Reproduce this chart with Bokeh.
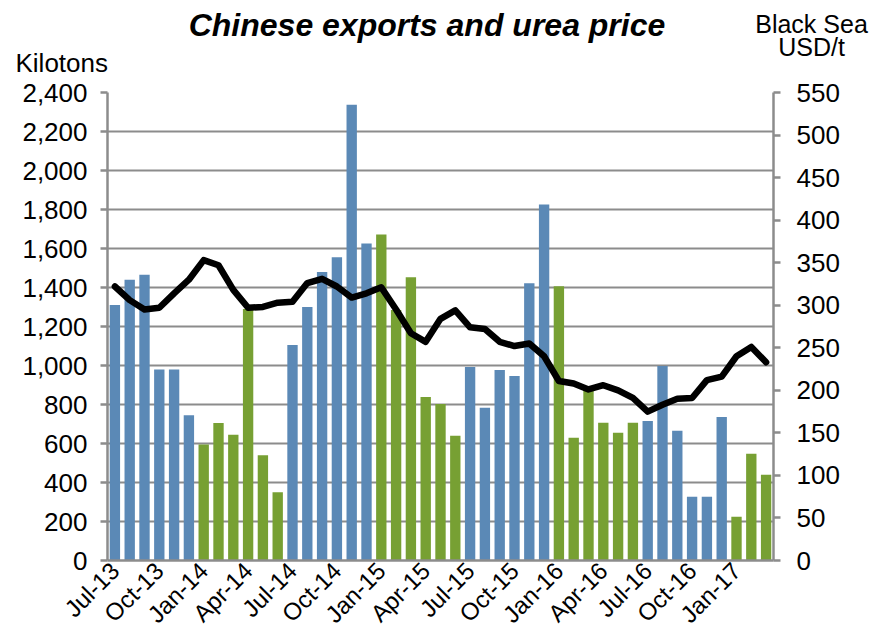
from math import pi
from bokeh.plotting import figure
from bokeh.layouts import column
from bokeh.models import (Range1d, LinearAxis, FixedTicker, NumeralTickFormatter,
                          ColumnDataSource)
from bokeh.core.properties import value
from bokeh.embed import file_html
from bokeh.resources import INLINE

months = ["Jul-13", "Aug-13", "Sep-13", "Oct-13", "Nov-13", "Dec-13",
          "Jan-14", "Feb-14", "Mar-14", "Apr-14", "May-14", "Jun-14",
          "Jul-14", "Aug-14", "Sep-14", "Oct-14", "Nov-14", "Dec-14",
          "Jan-15", "Feb-15", "Mar-15", "Apr-15", "May-15", "Jun-15",
          "Jul-15", "Aug-15", "Sep-15", "Oct-15", "Nov-15", "Dec-15",
          "Jan-16", "Feb-16", "Mar-16", "Apr-16", "May-16", "Jun-16",
          "Jul-16", "Aug-16", "Sep-16", "Oct-16", "Nov-16", "Dec-16",
          "Jan-17", "Feb-17", "Mar-17"]

exports_kt = [1310, 1440, 1465, 980, 980, 745,
              595, 705, 645, 1290, 540, 350,
              1105, 1300, 1480, 1555, 2337, 1626,
              1672, 1285, 1453, 839, 803, 640,
              992, 783, 977, 946, 1422, 1826,
              1406, 629, 878, 706, 655, 706,
              716, 997, 665, 327, 327, 736,
              225, 547, 440]

price_usd = [322, 306, 295, 297, 314, 330,
             353, 347, 318, 297, 298, 303,
             304, 326, 331, 322, 309, 314,
             321, 295, 267, 257, 284, 294,
             274, 272, 257, 252, 255, 240,
             211, 208, 201, 206, 200, 191,
             175, 183, 190, 191, 212, 216,
             240, 251, 233]

# second-half months blue, first-half months green
season = ["H2" if m[:3] in ("Jul", "Aug", "Sep", "Oct", "Nov", "Dec") else "H1" for m in months]

tick_labels = ["Jul-13", "Oct-13", "Jan-14", "Apr-14", "Jul-14", "Oct-14", "Jan-15",
               "Apr-15", "Jul-15", "Oct-15", "Jan-16", "Apr-16", "Jul-16", "Oct-16", "Jan-17"]

left_ticks = list(range(0, 2401, 200))
right_ticks = list(range(0, 551, 50))

title_text = "Chinese exports and urea price"
left_unit = "Kilotons"
right_unit_1 = "Black Sea"
right_unit_2 = "USD/t"

BLUE = "#5B89B6"
GREEN = "#77A033"
FONT = "Liberation Sans"
GRID = "#8C8C8C"

W = 869
HEADER_H = 77

# ---------- header with titles ----------
hdr = figure(width=W, height=HEADER_H, output_backend="svg", toolbar_location=None,
             x_range=Range1d(0, W), y_range=Range1d(HEADER_H, 0),
             x_axis_type=None, y_axis_type=None, min_border=0,
             min_border_left=0, min_border_right=0, min_border_top=0, min_border_bottom=0)
hdr.outline_line_color = None
hdr.grid.visible = False
hdr.text(x=[426.5], y=[24.5], text=[title_text], text_align="center",
         text_baseline="alphabetic", text_font=value(FONT), text_font_size="32px",
         text_font_style="bold italic", text_color="black")
hdr.text(x=[15], y=[62], text=[left_unit], text_align="left",
         text_baseline="alphabetic", text_font=value(FONT), text_font_size="26px",
         text_color="black")
hdr.text(x=[811, 811], y=[23, 46.5], text=[right_unit_1, right_unit_2], text_align="center",
         text_baseline="alphabetic", text_font=value(FONT), text_font_size="25px",
         text_color="black")

# ---------- main chart ----------
idx = list(range(len(months)))
colors = [BLUE if s == "H2" else GREEN for s in season]
src = ColumnDataSource(dict(x=idx, exports=exports_kt, price=price_usd, color=colors))

p = figure(width=W, height=640 - HEADER_H, output_backend="svg", toolbar_location=None,
           x_range=Range1d(-0.5, len(months) - 0.5), y_range=Range1d(0, 2400),
           min_border_left=107, min_border_right=96, min_border_top=15, min_border_bottom=79)
p.outline_line_color = None

for fig in (hdr, p):
    try:
        fig.frame_align = False
    except Exception:
        pass

p.extra_y_ranges = {"price": Range1d(0, 550)}

p.vbar(x="x", top="exports", width=0.7, color="color", line_color=None, source=src)
p.line(x="x", y="price", y_range_name="price", line_width=6.5, line_color="black",
       line_join="round", line_cap="round", source=src)

p.xgrid.visible = False
p.ygrid.ticker = FixedTicker(ticks=left_ticks)
p.ygrid.grid_line_color = GRID
p.ygrid.grid_line_width = 2

ya = p.yaxis[0]
ya.ticker = FixedTicker(ticks=left_ticks)
ya.formatter = NumeralTickFormatter(format="0,0")
ya.axis_line_color = GRID
ya.axis_line_width = 2.5
ya.major_tick_line_color = GRID
ya.major_tick_line_width = 2.5
ya.major_tick_out = 7
ya.major_tick_in = 0
ya.minor_tick_line_color = None
ya.major_label_text_font = FONT
ya.major_label_text_font_size = "26px"
ya.major_label_text_color = "black"
ya.major_label_standoff = 13

ra = LinearAxis(y_range_name="price", ticker=FixedTicker(ticks=right_ticks))
ra.axis_line_color = GRID
ra.axis_line_width = 2.5
ra.major_tick_line_color = GRID
ra.major_tick_line_width = 2.5
ra.major_tick_out = 7
ra.major_tick_in = 0
ra.minor_tick_line_color = None
ra.major_label_text_font = FONT
ra.major_label_text_font_size = "26px"
ra.major_label_text_color = "black"
ra.major_label_standoff = 16
p.add_layout(ra, "right")

xa = p.xaxis[0]
xa.ticker = FixedTicker(ticks=[months.index(t) for t in tick_labels])
xa.major_label_overrides = {months.index(t): t for t in tick_labels}
xa.major_label_orientation = pi / 4
xa.axis_line_color = GRID
xa.axis_line_width = 2.5
xa.major_tick_line_color = None
xa.major_tick_out = 0
xa.major_tick_in = 0
xa.minor_tick_line_color = None
xa.major_label_text_font = FONT
xa.major_label_text_font_size = "24px"
xa.major_label_text_color = "black"
xa.major_label_standoff = 6

layout = column(hdr, p, spacing=0)
open("out.html", "w").write(file_html(layout, INLINE))
